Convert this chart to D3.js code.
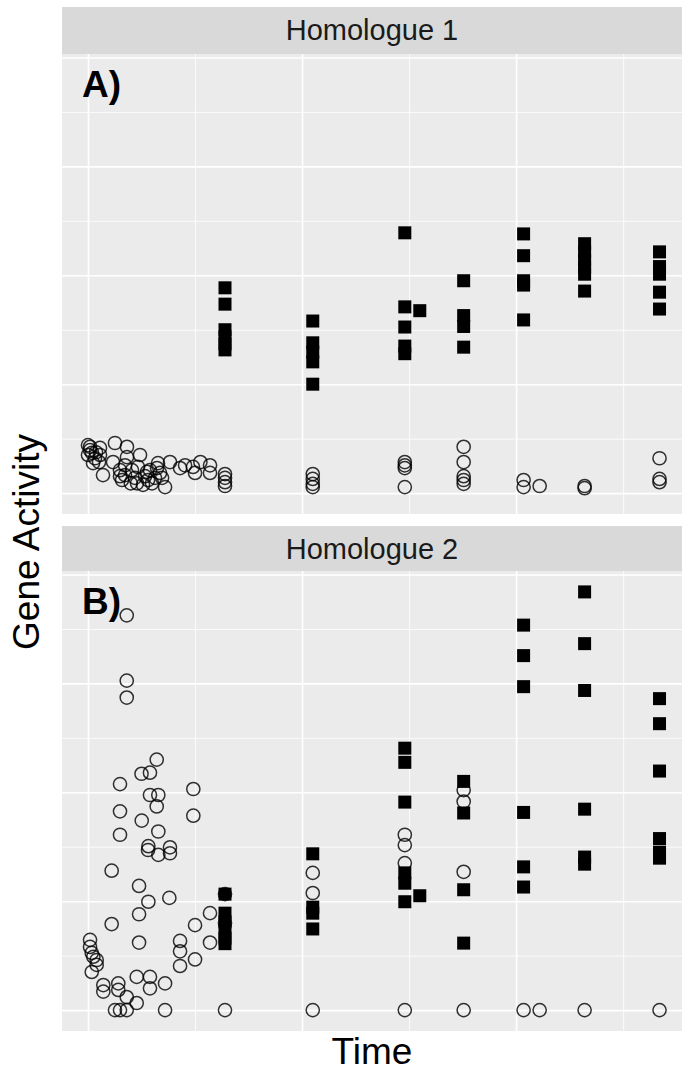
<!DOCTYPE html>
<html>

<head>
    <meta charset="utf-8">
    <style>
        body {
            margin: 0;
            background: #fff;
        }

        svg {
            display: block;
            font-family: 'Liberation Sans', Arial, Helvetica, sans-serif;
        }

        .grid .domain {
            display: none;
        }

        .grid .tick line {
            stroke: #fff;
        }

        .strip-text {
            font-size: 29px;
            fill: #1a1a1a;
        }

        .panel-tag {
            font-size: 37px;
            font-weight: bold;
        }

        .axis-title {
            font-size: 37px;
            fill: #000;
        }
    </style>
</head>

<body>
    <svg width="682" height="1074"></svg>
</body>

<script src="https://d3js.org/d3.v7.min.js"></script>

<script>
    // panels and their tags
    let panels = ["Homologue 1", "Homologue 2"];
    let tags = ["A)", "B)"];

    // grid breaks
    let xMajor = [0, 20, 40];
    let xMinor = [10, 30, 50];
    let yMajor = [0, 2, 4, 6, 8];
    let yMinor = [1, 3, 5, 7];

    // [time, activity]
    let h1Circles = [
        [0.0, 0.88], [0.19, 0.79], [0.37, 0.74], [0.75, 0.75], [0.0, 0.70], [1.12, 0.83],
        [0.47, 0.55], [1.12, 0.70], [1.40, 0.33], [2.52, 0.92], [3.64, 0.85], [3.64, 0.66],
        [2.34, 0.57], [2.99, 0.42], [3.18, 0.24], [2.99, 0.31], [4.86, 0.70], [4.67, 0.48],
        [4.58, 0.18], [5.79, 0.42], [5.61, 0.24], [5.33, 0.31], [6.54, 0.55], [6.73, 0.37],
        [7.20, 0.11], [6.26, 0.28], [7.66, 0.57], [8.60, 0.46], [9.81, 0.48], [10.0, 0.37],
        [11.4, 0.51], [11.4, 0.37], [5.51, 0.39], [4.11, 0.42], [3.46, 0.33], [4.39, 0.28],
        [0.19, 0.85], [0.65, 0.64], [1.03, 0.57], [3.46, 0.51], [4.0, 0.18], [5.14, 0.15],
        [5.98, 0.18], [6.45, 0.46], [6.92, 0.28], [9.07, 0.51], [10.5, 0.57],
        [12.8, 0.35], [12.8, 0.28], [12.8, 0.20], [12.8, 0.13],
        [21.0, 0.35], [21.0, 0.26], [21.0, 0.17], [21.0, 0.11],
        [29.6, 0.57], [29.6, 0.51], [29.6, 0.46], [29.6, 0.11],
        [35.1, 0.85], [35.1, 0.57], [35.1, 0.31], [35.1, 0.24], [35.1, 0.17],
        [40.7, 0.24], [40.7, 0.11], [42.2, 0.13],
        [46.4, 0.13], [46.4, 0.09],
        [53.4, 0.64], [53.4, 0.26], [53.4, 0.20]
    ];

    let h1Squares = [
        [12.8, 3.77], [12.8, 3.47], [12.8, 3.00], [12.8, 2.87], [12.8, 2.74], [12.8, 2.63],
        [21.0, 3.16], [21.0, 2.76], [21.0, 2.59], [21.0, 2.41], [21.0, 2.00],
        [29.6, 4.78], [29.6, 3.42], [29.6, 3.05], [29.6, 2.70], [29.6, 2.56], [31.0, 3.35],
        [35.1, 3.90], [35.1, 3.26], [35.1, 3.06], [35.1, 2.68],
        [40.7, 4.76], [40.7, 4.36], [40.7, 3.90], [40.7, 3.82], [40.7, 3.18],
        [46.4, 4.58], [46.4, 4.43], [46.4, 4.28], [46.4, 4.15], [46.4, 4.02], [46.4, 3.71],
        [53.4, 4.43], [53.4, 4.16], [53.4, 4.02], [53.4, 3.69], [53.4, 3.38]
    ];

    let h2Circles = [
        [3.62, 7.25], [3.62, 6.05], [3.62, 5.74], [6.42, 4.60], [5.0, 4.34], [5.79, 4.36],
        [2.99, 4.15], [9.84, 4.06], [5.79, 3.95], [6.57, 3.95], [6.42, 3.74], [2.99, 3.65],
        [5.02, 3.48], [9.84, 3.57], [2.99, 3.22], [6.57, 3.28], [5.64, 3.01], [7.66, 2.99],
        [5.61, 2.94], [6.57, 2.85], [7.66, 2.88], [2.21, 2.56], [4.77, 2.28], [5.64, 1.99],
        [7.60, 2.06], [4.77, 1.76], [2.21, 1.58], [11.4, 1.78], [10.0, 1.56], [4.77, 1.24],
        [8.60, 1.27], [11.4, 1.24], [8.60, 1.08], [10.0, 0.93], [8.60, 0.81],
        [0.19, 1.29], [0.19, 1.16], [0.35, 1.05], [0.50, 0.98], [0.81, 0.92], [0.81, 0.83],
        [0.35, 0.70], [1.43, 0.46], [1.43, 0.34], [2.83, 0.49], [2.83, 0.37], [3.62, 0.24],
        [4.55, 0.61], [5.79, 0.61], [5.79, 0.40], [7.20, 0.49], [4.55, 0.13],
        [2.52, 0], [2.99, 0], [3.62, 0], [7.20, 0],
        [12.8, 2.13], [12.8, 1.60], [12.8, 0],
        [21.0, 2.52], [21.0, 2.15], [21.0, 0],
        [29.6, 3.22], [29.6, 3.03], [29.6, 2.70], [29.6, 0],
        [35.1, 4.04], [35.1, 3.83], [35.1, 2.54], [35.1, 0],
        [40.7, 0], [42.2, 0], [46.4, 0], [53.4, 0]
    ];

    let h2Squares = [
        [12.8, 2.13], [12.8, 1.78], [12.8, 1.62], [12.8, 1.45], [12.8, 1.32], [12.8, 1.22],
        [21.0, 2.87], [21.0, 1.89], [21.0, 1.78], [21.0, 1.49],
        [29.6, 4.81], [29.6, 4.55], [29.6, 3.82], [29.6, 2.52], [29.6, 2.33], [29.6, 1.99], [31.0, 2.10],
        [35.1, 4.20], [35.1, 3.62], [35.1, 2.21], [35.1, 1.23],
        [40.7, 7.07], [40.7, 6.51], [40.7, 5.94], [40.7, 3.63], [40.7, 2.63], [40.7, 2.26],
        [46.4, 7.68], [46.4, 6.73], [46.4, 5.87], [46.4, 3.69], [46.4, 2.81], [46.4, 2.68],
        [53.4, 5.72], [53.4, 5.26], [53.4, 4.39], [53.4, 3.15], [53.4, 2.90], [53.4, 2.79]
    ];

    let circleSets = [h1Circles, h2Circles];
    let squareSets = [h1Squares, h2Squares];

    let svg = d3.select("svg");

    let left = 62, right = 682;
    let stripTops = [7, 526];
    let stripH = 46;
    let panelH = 460;
    let sq = 13;

    let x = d3.scaleLinear()
        .domain([-2.43, 55.5])
        .range([left, right]);

    panels.forEach(function (name, i) {
        let top = stripTops[i] + stripH + (i == 0 ? 1 : -1);
        let bottom = top + panelH;

        let y = d3.scaleLinear()
            .domain([-0.384, 8.064])
            .range([bottom, top]);

        // strip
        svg.append("rect")
            .attr("x", left)
            .attr("y", stripTops[i])
            .attr("width", right - left)
            .attr("height", top - stripTops[i])
            .attr("fill", "#d9d9d9");

        svg.append("text")
            .attr("class", "strip-text")
            .attr("x", (left + right) / 2)
            .attr("y", stripTops[i] + stripH / 2 + 10)
            .attr("text-anchor", "middle")
            .text(name);

        // panel
        svg.append("rect")
            .attr("x", left)
            .attr("y", top)
            .attr("width", right - left)
            .attr("height", panelH)
            .attr("fill", "#ebebeb");

        let grid = svg.append("g").attr("class", "grid");

        grid.append("g")
            .attr("transform", `translate(${left},0)`)
            .call(d3.axisLeft(y).tickValues(yMinor).tickSize(-(right - left)).tickFormat(""))
            .selectAll(".tick line").attr("stroke-width", 0.8);

        grid.append("g")
            .attr("transform", `translate(0,${bottom})`)
            .call(d3.axisBottom(x).tickValues(xMinor).tickSize(-panelH).tickFormat(""))
            .selectAll(".tick line").attr("stroke-width", 0.8);

        grid.append("g")
            .attr("transform", `translate(${left},0)`)
            .call(d3.axisLeft(y).tickValues(yMajor).tickSize(-(right - left)).tickFormat(""))
            .selectAll(".tick line").attr("stroke-width", 1.6);

        grid.append("g")
            .attr("transform", `translate(0,${bottom})`)
            .call(d3.axisBottom(x).tickValues(xMajor).tickSize(-panelH).tickFormat(""))
            .selectAll(".tick line").attr("stroke-width", 1.6);

        // points
        svg.append("g")
            .selectAll("circle")
            .data(circleSets[i])
            .join("circle")
            .attr("cx", d => x(d[0]))
            .attr("cy", d => y(d[1]))
            .attr("r", 6.6)
            .attr("fill", "none")
            .attr("stroke", "#000")
            .attr("stroke-opacity", 0.8)
            .attr("stroke-width", 1.5);

        svg.append("g")
            .selectAll("rect")
            .data(squareSets[i])
            .join("rect")
            .attr("x", d => x(d[0]) - sq / 2)
            .attr("y", d => y(d[1]) - sq / 2)
            .attr("width", sq)
            .attr("height", sq)
            .attr("fill", "#000");

        svg.append("text")
            .attr("class", "panel-tag")
            .attr("x", 82)
            .attr("y", top + 43)
            .text(tags[i]);
    });

    // axis titles
    svg.append("text")
        .attr("class", "axis-title")
        .attr("x", (left + right) / 2)
        .attr("y", 1064)
        .attr("text-anchor", "middle")
        .text("Time");

    svg.append("text")
        .attr("class", "axis-title")
        .attr("transform", "translate(39,542) rotate(-90)")
        .attr("text-anchor", "middle")
        .text("Gene Activity");
</script>

</html>
